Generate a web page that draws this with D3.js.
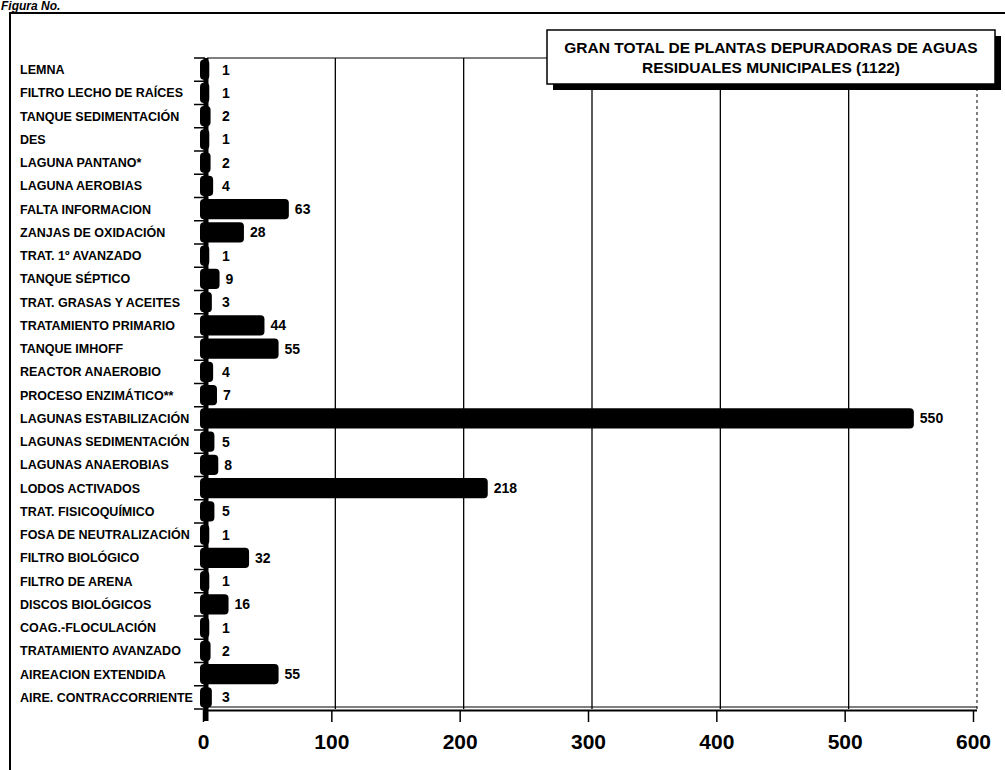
<!DOCTYPE html>
<html>
<head>
<meta charset="utf-8">
<script src="https://cdn.jsdelivr.net/npm/d3@7"></script>
<style>
  html, body { margin: 0; padding: 0; background: #fff; }
  svg { display: block; }
  text { font-family: "Liberation Sans", Arial, sans-serif; font-weight: bold; fill: #000; }
</style>
</head>
<body>
<svg id="chart" width="1005" height="770"></svg>
<script>
// Treatment processes (top to bottom) and number of plants using each
const categories = [
  "LEMNA",
  "FILTRO LECHO DE RAÍCES",
  "TANQUE SEDIMENTACIÓN",
  "DES",
  "LAGUNA PANTANO*",
  "LAGUNA AEROBIAS",
  "FALTA INFORMACION",
  "ZANJAS DE OXIDACIÓN",
  "TRAT.  1º AVANZADO",
  "TANQUE SÉPTICO",
  "TRAT. GRASAS Y ACEITES",
  "TRATAMIENTO PRIMARIO",
  "TANQUE IMHOFF",
  "REACTOR ANAEROBIO",
  "PROCESO ENZIMÁTICO**",
  "LAGUNAS ESTABILIZACIÓN",
  "LAGUNAS SEDIMENTACIÓN",
  "LAGUNAS ANAEROBIAS",
  "LODOS ACTIVADOS",
  "TRAT. FISICOQUÍMICO",
  "FOSA DE NEUTRALIZACIÓN",
  "FILTRO BIOLÓGICO",
  "FILTRO DE ARENA",
  "DISCOS BIOLÓGICOS",
  "COAG.-FLOCULACIÓN",
  "TRATAMIENTO AVANZADO",
  "AIREACION EXTENDIDA",
  "AIRE. CONTRACCORRIENTE"
];
const plants = [1, 1, 2, 1, 2, 4, 63, 28, 1, 9, 3, 44, 55, 4, 7, 550, 5, 8, 218, 5, 1, 32, 1, 16, 1, 2, 55, 3];
const xTicks = [0, 100, 200, 300, 400, 500, 600];
const titleLines = ["GRAN TOTAL DE PLANTAS DEPURADORAS DE AGUAS", "RESIDUALES MUNICIPALES (1122)"];
const figureCaption = "Figura No.";

const svg = d3.select("#chart");

const plotTop = 58, plotBottom = 709, plotLeft = 203, plotRight = 973;
const wallShift = 4; // back wall offset of the 3D floor

const x = d3.scaleLinear().domain([0, 600]).range([plotLeft, plotRight]);
const y = d3.scaleBand().domain(categories).range([plotTop, plotBottom]).paddingInner(0.12).paddingOuter(0.06);

// Figure caption above the frame
svg.append("text")
  .attr("x", 1).attr("y", 10)
  .attr("font-size", 12).attr("font-style", "italic")
  .text(figureCaption);

// Outer frame
svg.append("path")
  .attr("d", "M10,770 L10,13 L1005,13")
  .attr("fill", "none").attr("stroke", "#000").attr("stroke-width", 2);

// Plot top border
svg.append("line")
  .attr("x1", plotLeft + 4).attr("x2", plotRight + wallShift)
  .attr("y1", plotTop).attr("y2", plotTop)
  .attr("stroke", "#000").attr("stroke-width", 1.2);

// Vertical gridlines on the back wall
svg.append("g")
  .selectAll("line")
  .data(xTicks.slice(1))
  .join("line")
  .attr("x1", d => x(d) + wallShift).attr("x2", d => x(d) + wallShift)
  .attr("y1", plotTop).attr("y2", plotBottom)
  .attr("stroke", "#000")
  .attr("stroke-width", d => d === 600 ? 1 : 1.3)
  .attr("stroke-dasharray", d => d === 600 ? "3,3" : null);

// Floor: double line along the bottom
svg.append("line")
  .attr("x1", plotLeft).attr("x2", plotRight + wallShift)
  .attr("y1", plotBottom - 2).attr("y2", plotBottom - 2)
  .attr("stroke", "#000").attr("stroke-width", 1.2);
svg.append("line")
  .attr("x1", plotLeft).attr("x2", plotRight + wallShift)
  .attr("y1", plotBottom + 1.5).attr("y2", plotBottom + 1.5)
  .attr("stroke", "#000").attr("stroke-width", 1.8);

// Bars with a rounded front cap
const cap = 5;
svg.append("g")
  .selectAll("rect")
  .data(plants)
  .join("rect")
  .attr("x", x(0) - 3)
  .attr("y", (d, i) => y(categories[i]))
  .attr("width", d => x(d) - x(0) + 3 + cap)
  .attr("height", y.bandwidth())
  .attr("rx", 4).attr("ry", 4)
  .attr("fill", "#000");

// Value labels
svg.append("g")
  .selectAll("text")
  .data(plants)
  .join("text")
  .attr("x", d => Math.max(x(d) + cap + 6, x(0) + 19))
  .attr("y", (d, i) => y(categories[i]) + y.bandwidth() / 2 + 5)
  .attr("font-size", 14)
  .text(d => d);

// Category axis
const yAxis = d3.axisLeft(y).tickSize(0).tickPadding(0);
const gy = svg.append("g").attr("transform", `translate(${plotLeft + 3},0)`).call(yAxis);
gy.select(".domain").remove();
gy.selectAll(".tick text")
  .attr("x", 20 - (plotLeft + 3))
  .attr("dy", "0.35em")
  .attr("text-anchor", "start")
  .attr("font-size", 12.5)
  .attr("font-family", "'Liberation Sans', Arial, sans-serif")
  .attr("font-weight", "bold");

// Category tick marks at band boundaries
const bounds = categories.map(c => y(c) - y.step() * y.paddingInner() / 2).concat([plotBottom]);
svg.append("g")
  .selectAll("line")
  .data(bounds)
  .join("line")
  .attr("x1", plotLeft - 9).attr("x2", plotLeft + 2)
  .attr("y1", d => d).attr("y2", d => d)
  .attr("stroke", "#000").attr("stroke-width", 1.5);

// Category axis line
svg.append("line")
  .attr("x1", plotLeft + 3).attr("x2", plotLeft + 3)
  .attr("y1", plotTop).attr("y2", plotBottom + 12)
  .attr("stroke", "#000").attr("stroke-width", 5);

// Value axis
const xAxis = d3.axisBottom(x).tickValues(xTicks).tickSize(12).tickPadding(12).tickFormat(d3.format("d"));
const gx = svg.append("g").attr("transform", `translate(0,${plotBottom + 1})`).call(xAxis);
gx.select(".domain").remove();
gx.selectAll(".tick line").attr("stroke", "#000").attr("stroke-width", 1.5);
gx.selectAll(".tick text")
  .attr("font-size", 21)
  .attr("font-family", "'Liberation Sans', Arial, sans-serif")
  .attr("font-weight", "bold")
  .attr("fill", "#000");

// Title box with drop shadow
const box = { x: 547, y: 30, w: 448, h: 54, sh: 6 };
svg.append("rect")
  .attr("x", box.x + box.sh).attr("y", box.y + box.sh)
  .attr("width", box.w).attr("height", box.h)
  .attr("fill", "#000");
svg.append("rect")
  .attr("x", box.x).attr("y", box.y)
  .attr("width", box.w).attr("height", box.h)
  .attr("fill", "#fff").attr("stroke", "#000").attr("stroke-width", 1.5);
svg.append("g")
  .selectAll("text")
  .data(titleLines)
  .join("text")
  .attr("x", box.x + box.w / 2)
  .attr("y", (d, i) => box.y + 23 + i * 20)
  .attr("text-anchor", "middle")
  .attr("font-size", 15.5)
  .text(d => d);
</script>
</body>
</html>
